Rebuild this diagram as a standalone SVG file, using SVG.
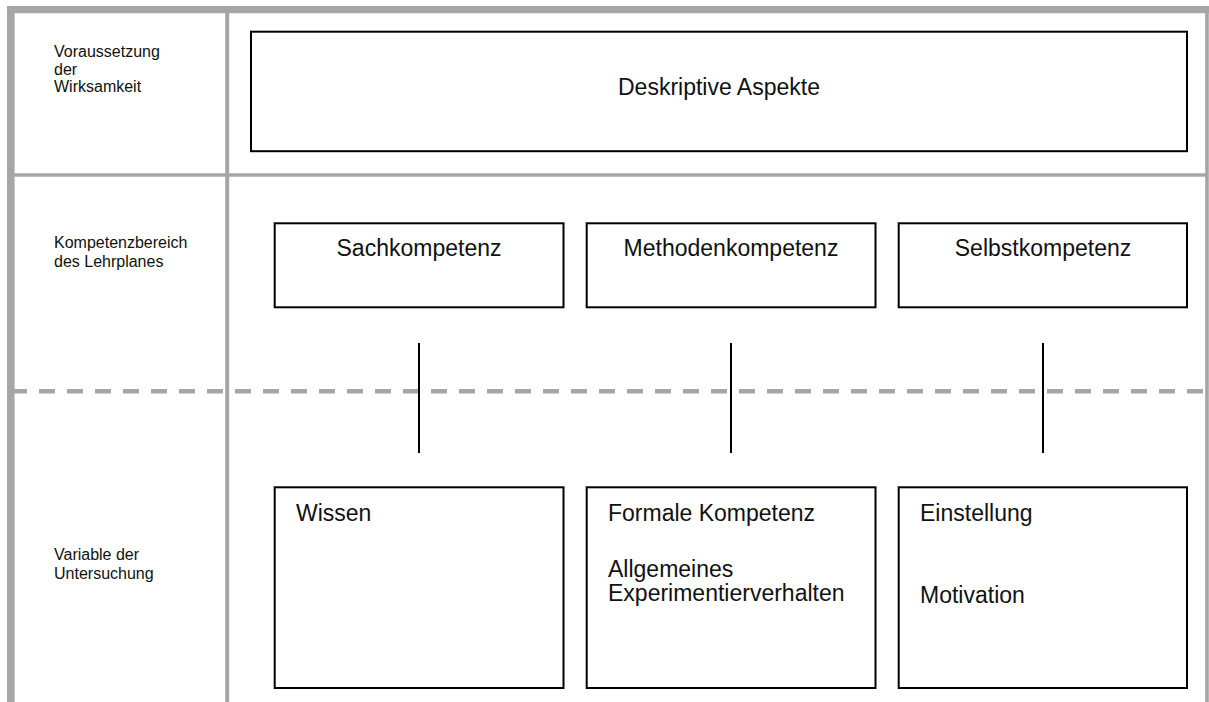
<svg xmlns="http://www.w3.org/2000/svg" width="1209" height="702" viewBox="0 0 1209 702">
<style>
.grid{stroke:#a6a6a6;fill:none}
.box{fill:#fff;stroke:#000;stroke-width:2}
.lbl{font-family:"Liberation Sans",Arial,sans-serif;font-size:16px;fill:#111}
.big{font-family:"Liberation Sans",Arial,sans-serif;font-size:23px;fill:#111}
.conn{stroke:#000;stroke-width:2}
</style>
<rect width="1209" height="702" fill="#fff"/>
<g id="grid">
<line class="grid" x1="7" y1="9.7" x2="1209" y2="9.7" stroke-width="7.3"/>
<line class="grid" x1="10.8" y1="6" x2="10.8" y2="702" stroke-width="7.6"/>
<line class="grid" x1="1207" y1="6" x2="1207" y2="702" stroke-width="3.6"/>
<line class="grid" x1="227.2" y1="13" x2="227.2" y2="702" stroke-width="4"/>
<line class="grid" x1="14" y1="175" x2="1206" y2="175" stroke-width="3.6"/>
<line class="grid" x1="11" y1="391.3" x2="1205" y2="391.3" stroke-width="4.5" stroke-dasharray="16 12"/>
</g>
<g id="row-labels">
<text class="lbl" x="54" y="57.3">Voraussetzung</text>
<text class="lbl" x="54" y="74.5">der</text>
<text class="lbl" x="54" y="92.3">Wirksamkeit</text>
<text class="lbl" x="54" y="248.3">Kompetenzbereich</text>
<text class="lbl" x="54" y="266.7">des Lehrplanes</text>
<text class="lbl" x="54" y="560">Variable der</text>
<text class="lbl" x="54" y="579.3">Untersuchung</text>
</g>
<g id="deskriptive">
<rect class="box" x="251" y="31.7" width="936" height="119.5"/>
<text class="big" x="719" y="95" text-anchor="middle">Deskriptive Aspekte</text>
</g>
<g id="sachkompetenz">
<rect class="box" x="274.7" y="223.3" width="288.8" height="84"/>
<text class="big" x="419" y="256" text-anchor="middle">Sachkompetenz</text>
</g>
<g id="methodenkompetenz">
<rect class="box" x="586.7" y="223.3" width="288.8" height="84"/>
<text class="big" x="731" y="256" text-anchor="middle">Methodenkompetenz</text>
</g>
<g id="selbstkompetenz">
<rect class="box" x="898.7" y="223.3" width="288.3" height="84"/>
<text class="big" x="1043" y="256" text-anchor="middle">Selbstkompetenz</text>
</g>
<g id="connectors">
<line class="conn" x1="419" y1="343" x2="419" y2="453"/>
<line class="conn" x1="731" y1="343" x2="731" y2="453"/>
<line class="conn" x1="1043" y1="343" x2="1043" y2="453"/>
</g>
<g id="wissen">
<rect class="box" x="274.7" y="487.3" width="288.8" height="200.7"/>
<text class="big" x="296" y="520.5">Wissen</text>
</g>
<g id="formale">
<rect class="box" x="586.7" y="487.3" width="288.8" height="200.7"/>
<text class="big" x="608" y="520.5">Formale Kompetenz</text>
<text class="big" x="608" y="577.3">Allgemeines</text>
<text class="big" x="608" y="600.7">Experimentierverhalten</text>
</g>
<g id="einstellung">
<rect class="box" x="898.7" y="487.3" width="288.3" height="200.7"/>
<text class="big" x="920" y="520.5">Einstellung</text>
<text class="big" x="920" y="602.7">Motivation</text>
</g>
</svg>
